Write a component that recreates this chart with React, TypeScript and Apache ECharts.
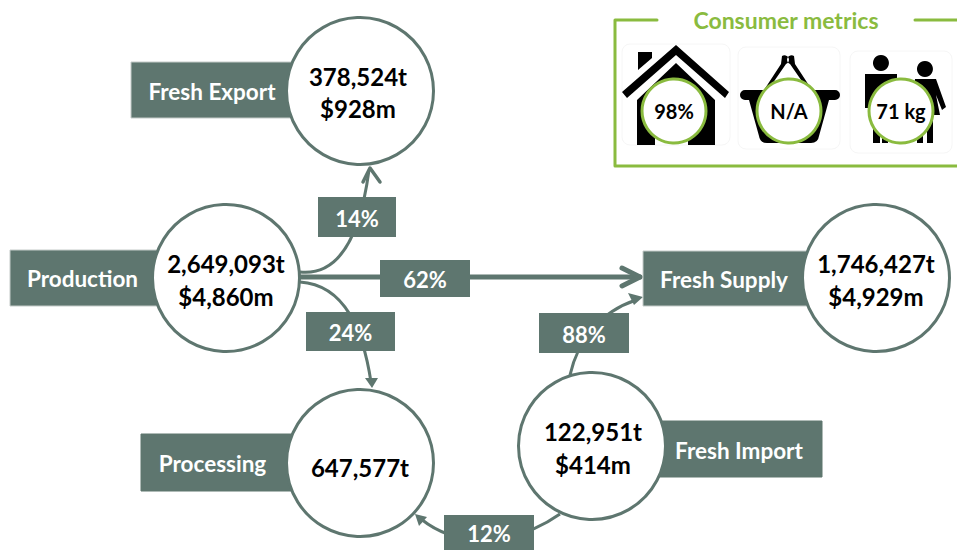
import React, { useEffect, useRef } from "react";
import * as echarts from "echarts";

const nodeNames = ["Production", "Fresh Export", "Fresh Supply", "Processing", "Fresh Import"];
const nodeTonnes = ["2,649,093t", "378,524t", "1,746,427t", "647,577t", "122,951t"];
const nodeValues = ["$4,860m", "$928m", "$4,929m", "", "$414m"];
const flowShares = ["14%", "62%", "24%", "88%", "12%"];
const metricTitle = "Consumer metrics";
const metricValues = ["98%", "N/A", "71 kg"];

const FONT = "Lato, 'Open Sans', sans-serif";
const GREY = "#5E766F";
const GREEN = "#8ABB3F";

// Diagram layout (no axes exist in this picture)
const circleLayout = [
  { cx: 226, cy: 278, tx: 226, t1: 263, t2: 296 },
  { cx: 360, cy: 91, tx: 358, t1: 76, t2: 108 },
  { cx: 876, cy: 278, tx: 876, t1: 263, t2: 296 },
  { cx: 360, cy: 463, tx: 360, t1: 467, t2: 0 },
  { cx: 592, cy: 446, tx: 593, t1: 431, t2: 464 },
];
const labelLayout = [
  { x: 10, y: 250, w: 160, h: 56, tx: 82.5, ty: 278, border: true },
  { x: 131, y: 62, w: 180, h: 56, tx: 212, ty: 91, border: true },
  { x: 643, y: 251, w: 180, h: 55, tx: 724, ty: 279, border: true },
  { x: 141, y: 434, w: 170, h: 57, tx: 212.5, ty: 463, border: false },
  { x: 640, y: 421, w: 182, h: 56, tx: 739, ty: 450, border: false },
];
const shareLayout = [
  { x: 318, y: 197, w: 78, h: 40 },
  { x: 380, y: 260, w: 90, h: 37 },
  { x: 306, y: 312, w: 89, h: 39 },
  { x: 539, y: 313, w: 90, h: 40 },
  { x: 444, y: 515, w: 90, h: 35 },
];
const curves = [
  [300, 272, 338, 276, 360, 238, 369, 170],
  [300, 282, 345, 285, 363, 330, 371, 382],
  [570, 375, 578, 340, 600, 312, 636, 300],
  [560, 514, 520, 542, 462, 552, 421, 519],
];
const metricCentres = [674, 789, 901];

const HOUSE =
  "M676 45L729 92L725 98L676 55L627 98L622 92Z M638 52L652 52L652 58L638 70Z " +
  "M676 63L715 100L715 145L688 145L688 115L655 115L655 145L637 145L637 100Z";
const BASKET =
  "M745 90L835 90A5 5 0 0 1 835 100L829 100L819 136Q818 143 811 143L767 143Q760 143 759 136L749 100L745 100A5 5 0 0 1 745 90Z " +
  "M782 56A4.5 4.5 0 1 1 786 64L768 90L764 90L781 64Z M794 56A4.5 4.5 0 1 0 790 64L808 90L812 90L795 64Z";
const PEOPLE =
  "M881 55A8 8 0 1 1 880.9 55Z M925 61A8 8 0 1 1 924.9 61Z " +
  "M865 74L897 74L897 112L888 112L888 143L882 143L882 115L880 115L880 143L873 143L873 112L871 112L871 108L865 108Z " +
  "M915 79L936 79L946 107L942 110L936 95L940 115L933 115L933 143L927 143L927 118L923 118L923 143L917 143L917 115L912 115Z";

export default function App() {
  const ref = useRef<HTMLDivElement>(null);
  useEffect(() => {
    if (!ref.current) return;
    const g = echarts.graphic as any;
    g.registerShape("iconHouse", g.extendPath(HOUSE, {}));
    g.registerShape("iconBasket", g.extendPath(BASKET, {}));
    g.registerShape("iconPeople", g.extendPath(PEOPLE, {}));
    const chart = echarts.init(ref.current, undefined, { renderer: "svg" });

    const text = (t: string, x: number, y: number, size: number, fill: string) => ({
      type: "text",
      z: 10,
      style: { text: t, x, y, fill, fontFamily: FONT, fontSize: size, fontWeight: "bold", align: "center", verticalAlign: "middle" },
    });
    const line = (pts: number[][], width: number, color: string = GREY) => ({
      type: "polyline",
      z: 1,
      shape: { points: pts },
      style: { stroke: color, lineWidth: width, fill: "none", lineCap: "round", lineJoin: "round" },
    });
    const tri = (pts: number[][]) => ({ type: "polygon", z: 1, shape: { points: pts }, style: { fill: GREY } });

    const elements: any[] = [];
    curves.forEach((c) =>
      elements.push({
        type: "bezierCurve",
        z: 1,
        shape: { x1: c[0], y1: c[1], cpx1: c[2], cpy1: c[3], cpx2: c[4], cpy2: c[5], x2: c[6], y2: c[7] },
        style: { stroke: GREY, lineWidth: 3, fill: "none" },
      })
    );
    // straight 62% flow and arrow heads
    elements.push(line([[300, 277], [640, 277]], 5));
    elements.push(line([[622, 268], [640, 277], [622, 286]], 5));
    elements.push(line([[363, 182], [370, 168], [380, 182]], 3.5));
    elements.push(tri([[372, 388], [365, 378], [378, 378]]));
    elements.push(tri([[643, 297], [628, 293], [634, 305]]));
    elements.push(tri([[415, 514], [427, 517], [419, 526]]));

    shareLayout.forEach((r, i) => {
      elements.push({ type: "rect", z: 2, shape: { x: r.x, y: r.y, width: r.w, height: r.h }, style: { fill: GREY } });
      elements.push(text(flowShares[i], r.x + r.w / 2, r.y + r.h / 2 + 1, 22, "#ffffff"));
    });
    labelLayout.forEach((r, i) => {
      elements.push({
        type: "rect",
        z: 3,
        shape: { x: r.x, y: r.y, width: r.w, height: r.h },
        style: { fill: GREY, stroke: r.border ? "#c4cbc9" : GREY, lineWidth: 1 },
      });
      elements.push(text(nodeNames[i], r.tx, r.ty, 22.5, "#ffffff"));
    });
    circleLayout.forEach((c, i) => {
      elements.push({
        type: "circle",
        z: 4,
        shape: { cx: c.cx, cy: c.cy, r: 73.5 },
        style: { fill: "#ffffff", stroke: GREY, lineWidth: 3 },
      });
      elements.push(text(nodeTonnes[i], c.tx, c.t1, 24, "#000000"));
      if (nodeValues[i]) elements.push(text(nodeValues[i], c.tx, c.t2, 24, "#000000"));
    });

    // Consumer metrics panel
    elements.push(line([[657, 20], [615, 20], [615, 166], [957, 166]], 3, GREEN));
    elements.push(line([[915, 20], [957, 20]], 3, GREEN));
    elements.push(text(metricTitle, 786, 20, 23, GREEN));
    [
      [622, 44, 108, 101],
      [738, 47, 102, 102],
      [850, 51, 102, 102],
    ].forEach((b) =>
      elements.push({
        type: "rect",
        z: 1,
        shape: { x: b[0], y: b[1], width: b[2], height: b[3], r: 8 },
        style: { fill: "#ffffff", stroke: "#f6f6f6", lineWidth: 1 },
      })
    );
    ["iconHouse", "iconBasket", "iconPeople"].forEach((t) =>
      elements.push({ type: t, z: 2, x: 0, y: 0, style: { fill: "#000000" } })
    );
    metricCentres.forEach((cx, i) => {
      elements.push({
        type: "circle",
        z: 5,
        shape: { cx, cy: 111, r: 32 },
        style: { fill: "#ffffff", stroke: GREEN, lineWidth: 3 },
      });
      elements.push(text(metricValues[i], cx, 111, 20, "#000000"));
    });

    chart.setOption({
      animation: false,
      backgroundColor: "#ffffff",
      graphic: { elements },
    });
    return () => chart.dispose();
  }, []);
  return <div ref={ref} style={{ position: "absolute", left: 0, top: 0, width: 957, height: 550 }} />;
}
